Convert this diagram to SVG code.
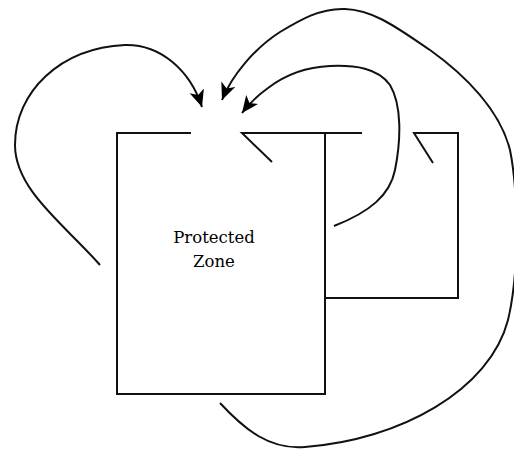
<svg xmlns="http://www.w3.org/2000/svg" width="514" height="449" viewBox="0 0 514 449">
<style>
.ln{fill:none;stroke:#111;stroke-width:2;stroke-linecap:butt}
.cv{fill:none;stroke:#111;stroke-width:2}
.lbl{font-family:"DejaVu Serif","Liberation Serif",serif;font-size:16.5px;fill:#000;text-anchor:middle}
</style>
<defs>
<marker id="ah" markerUnits="userSpaceOnUse" markerWidth="20" markerHeight="16" refX="17" refY="7.5" orient="auto">
<path d="M0,0 L17,7.5 L0,15 L4.5,7.5 z" fill="#000"/>
</marker>
</defs>
<rect width="514" height="449" fill="#fff"/>
<g id="protected-zone">
<path class="ln" d="M191,133 H117 V394 H325 V133 H242 L272,162"/>
<text class="lbl" x="214" y="243">Protected</text>
<text class="lbl" x="214" y="267">Zone</text>
</g>
<g id="right-box">
<path class="ln" d="M325,133 H362"/>
<path class="ln" d="M433,163 L414,133 H458 V298 H325"/>
</g>
<g id="connectors">
<path class="cv" marker-end="url(#ah)" d="M100,265 C65,225 15,190 15,145 C15,92 60,48 125,45 C160,44 190,70 202,107"/>
<path class="cv" marker-end="url(#ah)" d="M220,403 C245,430 270,450 305,447 C400,440 490,390 508,320 C520,270 518,190 510,150 C500,110 465,75 430,50 C400,30 375,10 345,9 C320,8 300,20 280,32 C255,48 232,75 222,100"/>
<path class="cv" marker-end="url(#ah)" d="M334,226 C370,212 390,195 395,170 C401,140 402,105 390,85 C378,68 355,65 330,66 C305,67 285,75 268,88 C257,96 248,105 242,113"/>
</g>
</svg>
